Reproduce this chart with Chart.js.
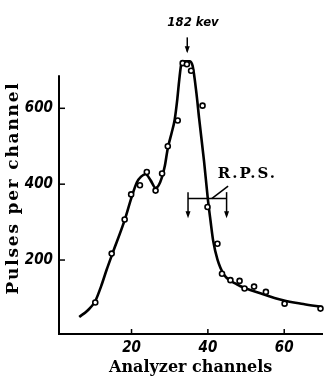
<!DOCTYPE html>
<html>
<head>
<meta charset="utf-8">
<script src="https://cdn.jsdelivr.net/npm/chart.js@4.4.0/dist/chart.umd.min.js"></script>
<style>
html, body { margin: 0; padding: 0; background: #fff; }
.box { width: 328px; height: 376px; }
</style>
</head>
<body>
<div class="box"><canvas id="myChart"></canvas></div>
<script>
// measured points (open circles)
const pointChannels = [10.5, 14.8, 18.2, 19.9, 22.2, 24.0, 26.3, 28.0, 29.5, 32.1, 33.4, 34.5, 35.6, 38.6, 39.9, 42.5, 43.7, 45.9, 48.3, 49.6, 52.1, 55.2, 60.1, 69.5];
const pointPulses   = [88, 217, 307, 373, 397, 432, 383, 428, 500, 568, 719, 716, 699, 607, 340, 243, 164, 147, 145, 125, 130, 116, 85, 72];

// hand drawn curve through them
const curveChannels = [6.3, 8.5, 10.5, 12, 13.5, 15, 18.2, 20, 21.4, 22.5, 23.7, 25, 26.3, 27.5, 28.7, 29.5, 30.5, 31.3, 32, 32.5, 33, 33.6, 35.2, 36, 37, 37.7, 39, 40, 40.7, 41.4, 42.5, 44.2, 47.6, 54.5, 59.7, 65, 70];
const curvePulses   = [50, 67, 92, 130, 175, 217, 305, 365, 405, 420, 426, 410, 390, 405, 447, 495, 535, 570, 625, 675, 715, 724, 724, 712, 640, 574, 460, 360, 303, 250, 202, 162, 136, 110, 94, 84, 76];

const xTicks = [20, 40, 60];
const yTicks = [200, 400, 600];
const yAxisTop = 687;

const peakLabel = '182 kev';
const rpsLabel = 'R.P.S.';

const tickFamily = "'DejaVu Sans Condensed', 'Liberation Sans Narrow', Roboto, sans-serif";
const tickFont = { family: tickFamily, size: 15, style: 'italic', weight: 'bold' };

function toXY(xs, ys) {
    return xs.map((v, i) => ({ x: v, y: ys[i] }));
}

const extras = {
    id: 'extras',
    afterDraw(chart) {
        const c = chart.ctx;
        const x = chart.scales.x;
        const y = chart.scales.y;
        const X = v => x.getPixelForValue(v);
        const Y = v => y.getPixelForValue(v);
        c.save();
        c.strokeStyle = '#000';
        c.fillStyle = '#000';

        function line(x1, y1, x2, y2) {
            c.beginPath(); c.moveTo(x1, y1); c.lineTo(x2, y2); c.stroke();
        }
        function arrowDown(px, py) {
            c.beginPath();
            c.moveTo(px - 2.5, py - 7); c.lineTo(px + 2.5, py - 7); c.lineTo(px, py);
            c.closePath(); c.fill();
        }

        // y axis line stops below the peak
        c.lineWidth = 2;
        line(x.left, y.bottom + 1, x.left, Y(yAxisTop));

        // tick marks point inward
        c.lineWidth = 1.5;
        xTicks.forEach(v => line(X(v), y.bottom, X(v), y.bottom - 5));
        yTicks.forEach(v => line(x.left, Y(v), x.left + 6, Y(v)));

        // axis titles
        c.font = "bold 16px 'DejaVu Serif'";
        c.textAlign = 'center';
        c.textBaseline = 'alphabetic';
        c.fillText('Analyzer channels', (x.left + x.right) / 2, 372);

        c.save();
        c.translate(18, 188);
        c.rotate(-Math.PI / 2);
        c.font = "bold 17px 'DejaVu Serif'";
        c.letterSpacing = '1.8px';
        c.fillText('Pulses per channel', 0, 0);
        c.restore();

        // peak marker
        c.font = "italic bold 13px " + tickFamily;
        c.textAlign = 'center';
        c.fillText(peakLabel, X(34.8) + 5, Y(818));
        c.lineWidth = 1.5;
        line(X(34.6), Y(787), X(34.6), Y(750));
        arrowDown(X(34.6), Y(745));

        // resolution bracket
        c.lineWidth = 1.5;
        line(X(34.8), Y(362), X(44.9), Y(362));
        line(X(34.8), Y(379), X(34.8), Y(318));
        line(X(44.9), Y(379), X(44.9), Y(318));
        arrowDown(X(34.8), Y(310));
        arrowDown(X(44.9), Y(310));
        line(X(41), Y(362), X(45.3), Y(395));
        c.font = "bold 15px 'DejaVu Serif'";
        c.textAlign = 'left';
        c.letterSpacing = '2px';
        c.fillText(rpsLabel, X(42.6), Y(416));

        c.restore();
    }
};

const ctx = document.getElementById('myChart');
const myChart = new Chart(ctx, {
    type: 'scatter',
    data: {
        datasets: [{
            label: 'measured',
            data: toXY(pointChannels, pointPulses),
            pointRadius: 2.5,
            pointBackgroundColor: '#fff',
            pointBorderColor: '#000',
            pointBorderWidth: 1.6,
            showLine: false,
            clip: false
        }, {
            label: 'curve',
            data: toXY(curveChannels, curvePulses),
            showLine: true,
            pointRadius: 0,
            borderColor: '#000',
            borderWidth: 2.6,
            cubicInterpolationMode: 'monotone',
            clip: false
        }]
    },
    options: {
        responsive: true,
        maintainAspectRatio: false,
        animation: false,
        layout: { padding: { top: 59, right: 0, left: 0, bottom: 0 } },
        plugins: {
            legend: { display: false },
            tooltip: { enabled: false }
        },
        scales: {
            x: {
                type: 'linear',
                min: 1,
                max: 70,
                afterBuildTicks: s => { s.ticks = xTicks.map(v => ({ value: v })); },
                afterFit: s => { s.height = 42; },
                grid: { display: false, drawTicks: false },
                border: { color: '#000', width: 2 },
                ticks: { color: '#000', font: tickFont, padding: 5, maxRotation: 0 }
            },
            y: {
                min: 5,
                max: 730,
                afterBuildTicks: s => { s.ticks = yTicks.map(v => ({ value: v })); },
                afterFit: s => { s.width = 59; },
                grid: { display: false, drawTicks: false },
                border: { display: false },
                ticks: { color: '#000', font: tickFont, padding: 6 }
            }
        }
    },
    plugins: [extras]
});
</script>
</body>
</html>
